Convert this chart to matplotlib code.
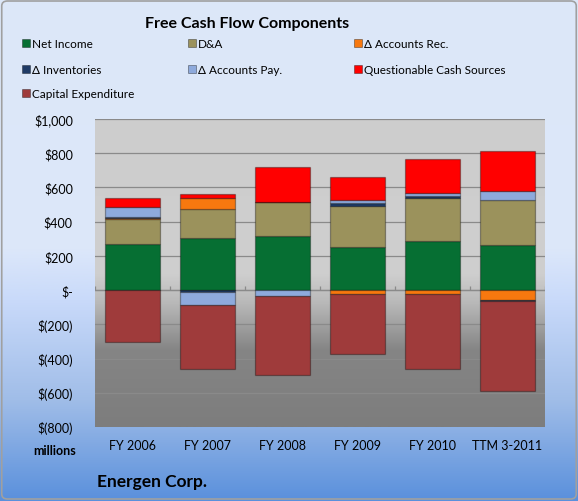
import numpy as np
import matplotlib
matplotlib.use("Agg")
import matplotlib.pyplot as plt
from matplotlib.colors import LinearSegmentedColormap
from matplotlib.patches import Rectangle, FancyBboxPatch

plt.rcParams.update(
    {
        "font.family": ["Lato", "DejaVu Sans"],
        "font.size": 9,
    }
)

# values in $ millions
years = ["FY 2006", "FY 2007", "FY 2008", "FY 2009", "FY 2010", "TTM 3-2011"]
net_income = [272, 306, 318, 253, 288, 266]
dep_amort = [143, 166, 195, 241, 253, 261]
d_acc_rec = [8, 69, 0, -25, -25, -58]
d_inventories = [5, -10, 0, 15, 10, -8]
d_acc_pay = [60, -76, -32, 18, 15, 55]
questionable = [49, 21, 205, 132, 202, 230]
capex = [-302, -373, -464, -346, -438, -524]

series = [
    ("Net Income", net_income, "#066f33"),
    ("D&A", dep_amort, "#9b925c"),
    ("\u0394 Accounts Rec.", d_acc_rec, "#f7780f"),
    ("\u0394 Inventories", d_inventories, "#1f3b66"),
    ("\u0394 Accounts Pay.", d_acc_pay, "#8eaadc"),
    ("Questionable Cash Sources", questionable, "#ff0000"),
    ("Capital Expenditure", capex, "#9f3b3b"),
]

W, H = 578, 502
fig = plt.figure(figsize=(W / 100, H / 100), dpi=100)

# outer background gradient (row 0 = top)
bg = fig.add_axes([0, 0, 1, 1], zorder=-10)
bg_cmap = LinearSegmentedColormap.from_list(
    "bg", [(0, "#dde8f8"), (0.5, "#dce7fa"), (0.6, "#c9dafa"), (0.8, "#a0bde8"), (1, "#5a90dc")]
)
bg.imshow(np.linspace(0, 1, 256).reshape(-1, 1), cmap=bg_cmap, aspect="auto",
          extent=[0, 1, 0, 1], origin="upper")
bg.set_xlim(0, 1)
bg.set_ylim(0, 1)
bg.axis("off")
fig.patches.append(
    FancyBboxPatch((0.003, 0.004), 0.994, 0.992, boxstyle="round,pad=0,rounding_size=0.01",
                   transform=fig.transFigure, fill=False, edgecolor="#a0a0a0", lw=1.2)
)

ax = fig.add_axes([95 / W, (H - 428) / H, 450 / W, 308 / H])
ymin, ymax = -800, 1000
x = np.arange(len(years))

# plot area gradient (light grey above zero, darkening below)
pa_cmap = LinearSegmentedColormap.from_list(
    "pa", [(0, "#cdcdcd"), (0.5, "#cfcfcf"), (0.6, "#b8b8b8"), (0.75, "#858585"), (1, "#7d7d7d")]
)
ax.imshow(np.linspace(0, 1, 256).reshape(-1, 1), cmap=pa_cmap, aspect="auto",
          extent=[-0.5, len(years) - 0.5, ymin, ymax], origin="upper", zorder=0)

for v in range(ymin + 200, ymax + 1, 200):
    ax.axhline(v, color="#8a8a8a", lw=0.9, zorder=1)
ax.axhline(0, color="#8a8a8a", lw=0.9, zorder=1)
ax.vlines(np.arange(len(years) + 1) - 0.5, 0, 22, color="#8a8a8a", lw=0.9, zorder=1)

pos_base = np.zeros(len(years))
neg_base = np.zeros(len(years))
for name, vals, color in series:
    vals = np.array(vals, dtype=float)
    base = np.where(vals >= 0, pos_base, neg_base)
    ax.bar(x, vals, bottom=base, width=0.73, color=color, edgecolor="#00000055",
           lw=0.9, zorder=3, label=name)
    pos_base += np.where(vals >= 0, vals, 0)
    neg_base += np.where(vals < 0, vals, 0)

ax.set_xlim(-0.5, len(years) - 0.5)
ax.set_ylim(ymin, ymax)
ax.set_yticks(range(ymin, ymax + 1, 200))


def fmt(v):
    if v == 0:
        return "$-"
    if v < 0:
        return "$({:,})".format(-v)
    return "${:,}".format(v)


ax.set_yticklabels([fmt(v) for v in range(ymin, ymax + 1, 200)])
ax.set_xticks(x)
ax.set_xticklabels(years)
ax.tick_params(axis="y", length=0, pad=16)
ax.tick_params(axis="x", length=0, pad=9)
for s in ax.spines.values():
    s.set_visible(False)

fig.text(247 / W, 1 - 24 / H, "Free Cash Flow Components", ha="center", va="center",
         fontsize=11.5, fontweight="bold")

# legend laid out row by row like the original
cols = [22, 188, 354]
rows = [44, 70, 94]
for i, (name, vals, color) in enumerate(series):
    cx = cols[i % 3]
    cy = rows[i // 3]
    fig.patches.append(Rectangle((cx / W, 1 - (cy + 4) / H), 8 / W, 8 / H, transform=fig.transFigure,
                                 facecolor=color, edgecolor="#00000066", lw=0.6))
    fig.text((cx + 10) / W, 1 - cy / H, name, ha="left", va="center", fontsize=8.5)

fig.text(55 / W, 1 - 451 / H, "millions", ha="center", va="center", fontsize=9, fontweight="bold")
fig.text(97 / W, 1 - 482 / H, "Energen Corp.", ha="left", va="center", fontsize=12.5, fontweight="bold")

fig.savefig("out.png", dpi=100)
